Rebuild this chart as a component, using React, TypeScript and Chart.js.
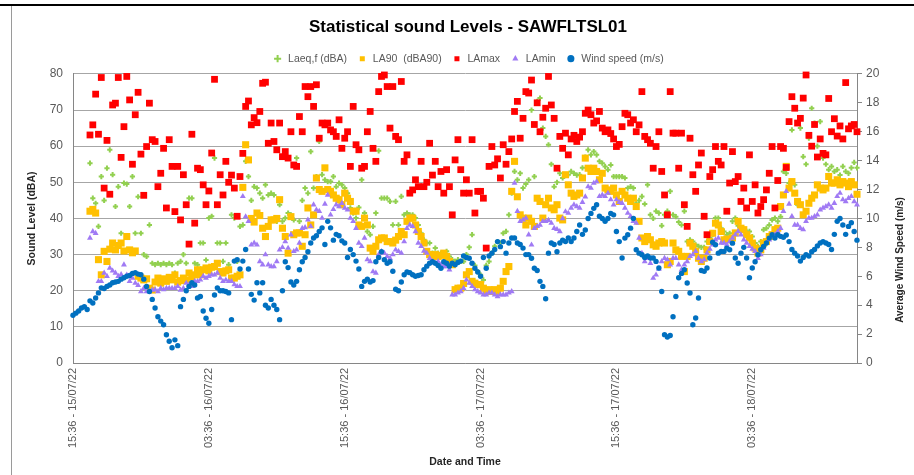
import React, { useEffect, useRef } from "react";
import { Chart, registerables } from "chart.js";

Chart.register(...registerables);

// ---- categories (15-minute intervals from 15:36 15/07/22) ----
const START_UTC = Date.UTC(2022, 6, 15, 15, 36);
const STEP_MINUTES = 15;
const POINT_COUNT = 278;
const TICK_EVERY = 48;

const tickLabels = [
  "15:36 - 15/07/22",
  "03:36 - 16/07/22",
  "15:36 - 16/07/22",
  "03:36 - 17/07/22",
  "15:36 - 17/07/22",
  "03:36 - 18/07/22",
];

const pad2 = (n: number) => String(n).padStart(2, "0");
const categories: string[] = Array.from({ length: POINT_COUNT }, (_, i) => {
  const d = new Date(START_UTC + i * STEP_MINUTES * 60000);
  return `${pad2(d.getUTCHours())}:${pad2(d.getUTCMinutes())} - ${pad2(d.getUTCDate())}/${pad2(
    d.getUTCMonth() + 1
  )}/${String(d.getUTCFullYear()).slice(2)}`;
});

const N = null;

// ---- series values ----
const laeq = [
  N, N, N, N, N, N, 55.3, 45.6, 44.2, 37.8,
  51.6, 45.0, 53.9, 59.0, 52.1, 43.3, 48.8, 35.9, 49.8, 49.5,
  43.3, 51.6, 35.9, 46.0, 35.9, 30.0, 29.5, 38.2, 27.6, 27.2,
  27.6, 27.2, 27.6, 27.2, 27.6, 27.2, 24.9, 27.6, 28.1, 30.0,
  27.6, 45.6, 45.6, 27.6, 27.2, 33.2, 33.2, 28.5, 40.1, 40.6,
  56.7, 33.2, 33.2, 28.1, 33.2, 27.2, 41.0, 40.1, 28.1, 37.8,
  38.2, 55.8, 51.6, 45.0, 48.8, 48.4, 47.0, 45.6, 49.3, 46.5,
  47.0, 46.5, 39.2, 43.8, 39.2, 40.1, 41.5, 41.0, 39.6, 56.7,
  39.2, 45.0, 48.4, 47.0, 58.5, 48.4, 51.6, 61.3, 52.1, 50.7,
  50.2, 50.2, 51.6, 48.8, 49.8, 49.3, 48.4, 47.0, 42.9, 41.5,
  40.1, 43.0, 50.7, 41.5, 36.4, 35.5, 37.8, 41.5, 58.7, 45.6,
  45.6, 45.6, 44.7, 38.2, 44.7, 38.2, 46.1, 41.0, 41.5, 41.0,
  41.0, 40.1, 38.2, 35.9, 34.1, 33.2, 33.2, 30.4, 31.8, 30.4,
  30.4, 30.4, 30.9, 29.5, 28.6, 28.1, 28.6, 28.1, 28.1, 30.0,
  32.0, 35.5, 27.0, 25.3, 24.4, 23.0, 27.0, 28.1, 30.4, 32.3,
  33.6, 33.2, 35.9, 36.4, 41.0, 47.0, 53.0, 50.7, 52.5, 48.4,
  49.5, 50.7, 70.0, 51.6, 72.4, 73.3, 65.0, 62.7, 60.4, 55.0,
  48.8, 50.0, 52.5, 51.2, 52.0, 52.1, 53.0, 52.5, 52.0, 52.1,
  54.0, 57.0, 59.0, 57.6, 58.5, 57.6, 55.8, 55.3, 54.4, 53.5,
  54.8, 51.6, 51.6, 51.6, 51.6, 51.2, 48.4, 48.8, 48.4, 44.2,
  45.0, 46.1, 44.0, 49.3, 41.0, 40.0, 42.0, 41.5, 38.0, 41.0,
  42.0, 47.5, 41.0, 40.5, 39.0, 38.2, 42.0, 33.6, 34.1, 33.6,
  32.7, 32.3, 32.0, 32.0, 33.6, 34.6, 35.5, 40.1, 40.1, 37.3,
  36.4, 35.5, 35.9, 39.2, 40.1, 38.0, 37.3, 36.9, 36.4, 36.4,
  35.0, 33.2, 32.3, 33.6, 36.9, 37.3, 38.2, 39.6, 40.1, 39.2,
  40.5, 53.0, 52.5, 49.8, 64.5, 49.3, 43.8, 65.0, 57.1, 55.0,
  62.2, 70.5, 66.4, 60.0, 66.8, 56.7, 55.0, 53.5, 54.4, 53.0,
  53.5, 52.0, 54.4, 53.0, 52.5, 54.0, 55.5, 54.0,
];

const la90 = [
  N, N, N, N, N, N, 42.0, 42.5, 41.5, 28.6,
  24.4, 30.9, 28.1, 31.5, 33.2, 31.3, 32.5, 33.2, 31.0, 35.0,
  31.3, 30.5, 31.0, 24.0, 23.5, 23.0, 23.3, 20.7, 20.2, 22.4,
  23.5, 22.1, 23.3, 22.6, 23.7, 23.0, 24.4, 22.4, 22.8, 23.5,
  22.9, 24.9, 23.8, 24.4, 25.8, 24.4, 25.8, 26.3, 25.5, 26.5,
  26.7, 27.6, 25.3, 24.9, 25.5, 25.8, 23.5, 23.5, 24.0, 24.4,
  48.6, 60.4, 56.2, 40.0, 39.0, 41.5, 40.8, 37.3, 35.0, 37.8,
  39.6, 39.6, 40.0, 45.2, 37.3, 35.0, 30.4, 40.5, 35.5, 36.0,
  36.0, 32.3, 35.5, 42.9, 38.2, 41.0, 51.2, 48.0, 47.5, 54.0,
  48.0, 47.5, 46.5, 45.6, 45.2, 43.8, 47.0, 45.6, 44.7, 42.0,
  42.0, 38.2, 37.8, 40.1, 38.2, 31.8, 30.9, 32.3, 34.1, 34.6,
  34.6, 33.6, 33.6, 33.2, 34.0, 35.0, 36.4, 35.5, 39.2, 40.1,
  40.1, 38.2, 36.4, 35.0, 33.2, 30.9, 30.0, 29.5, 30.0, 29.5,
  29.8, 30.4, 29.5, 28.1, 27.2, 20.3, 20.7, 20.7, 22.0, 24.4,
  25.3, 22.6, 22.1, 21.7, 21.7, 20.7, 19.8, 20.3, 19.8, 20.3,
  19.8, 20.7, 22.6, 25.3, 26.7, 47.5, 55.8, 46.0, 41.0, 40.1,
  38.2, 40.1, 39.2, 37.8, 45.6, 44.7, 40.1, 43.8, 45.6, 42.9,
  42.4, 43.8, 40.1, 39.6, 52.1, 49.3, 47.0, 46.1, 46.5, 47.0,
  51.2, 56.7, 53.9, 53.0, 53.9, 53.0, 50.7, 52.5, 48.4, 47.9,
  47.5, 48.4, 46.5, 44.7, 47.5, 46.5, 45.6, 44.7, 45.6, 43.3,
  39.2, 34.6, 33.6, 35.0, 34.1, 32.7, 32.3, 33.2, 33.6, 33.2,
  27.2, 28.1, 33.2, 31.3, 30.9, 29.5, 25.3, 29.5, 33.2, 32.3,
  30.9, 29.0, 28.1, 29.0, 31.3, 33.6, 35.9, 38.7, 38.2, 36.4,
  34.1, 34.3, 34.1, 34.6, 36.0, 39.2, 37.3, 36.9, 35.5, 34.6,
  33.2, 31.8, 30.4, 31.3, 33.2, 33.6, 35.0, 35.5, 36.9, 37.3,
  43.3, 46.5, 54.4, 48.4, 50.2, 47.0, 44.7, 43.8, 41.0, 42.0,
  44.2, 45.6, 46.5, 49.3, 48.4, 47.9, 48.4, 51.6, 49.8, 49.8,
  50.7, 49.3, 50.2, 49.8, 48.8, 50.2, 49.3, 46.7,
];

const lamax = [
  N, N, N, N, N, N, 63.1, 65.9, 74.4, 63.3,
  79.0, 48.4, 61.6, 46.7, 71.4, 71.9, 79.0, 56.9, 65.4, 79.3,
  72.8, 55.0, 68.7, 74.9, 57.8, 46.4, 59.9, 71.9, 61.8, 61.3,
  48.8, 52.5, 59.4, 42.9, 61.8, 54.4, 41.9, 54.4, 39.6, 52.1,
  43.8, 32.9, 63.3, 38.7, 53.9, 53.5, 49.3, 43.8, 47.6, 58.1,
  78.5, 43.8, 52.1, 46.5, 55.8, 50.0, 52.0, 48.4, 40.6, 51.6,
  58.0, 71.0, 72.5, 65.9, 67.9, 66.5, 69.6, 77.4, 77.7, 60.8,
  66.4, 61.3, 59.0, 66.4, 57.1, 58.5, 56.7, 64.0, 54.8, 54.4,
  68.2, 64.0, 76.5, 73.7, 76.5, 71.0, 77.0, 62.2, 66.4, 65.9,
  66.4, 64.5, 64.0, 62.7, 67.3, 59.4, 62.2, 64.0, 54.4, 71.0,
  60.4, 59.0, 53.9, 54.4, 64.0, 69.6, 59.4, 55.8, 75.1, 79.3,
  79.7, 76.5, 65.0, 76.5, 62.7, 61.8, 77.9, 55.8, 57.6, 47.0,
  47.9, 50.7, 48.8, 55.8, 48.8, 50.0, 60.8, 52.0, 55.8, 48.8,
  53.0, 47.0, 53.5, 48.8, 41.0, 56.2, 61.8, 53.5, 47.0, 50.7,
  47.0, 61.8, 41.5, 47.5, 47.5, 45.6, 31.8, 54.4, 59.9, 54.8,
  56.5, 51.2, 60.4, 55.0, 58.5, 62.0, 69.6, 72.4, 62.2, 67.7,
  75.1, 74.7, 78.3, 66.0, 72.0, 64.0, 68.0, 70.5, 79.3, 71.4,
  67.7, 53.9, 62.7, 59.4, 63.6, 57.6, 62.0, 63.0, 61.3, 62.5,
  64.0, 69.1, 70.0, 68.7, 66.4, 67.0, 69.6, 65.0, 64.0, 64.5,
  63.5, 62.0, 59.9, 60.5, 65.4, 69.1, 68.7, 66.4, 67.3, 64.0,
  65.9, 75.1, 62.7, 61.8, 60.8, 53.9, 59.9, 64.0, 53.0, 46.5,
  41.0, 75.1, 63.6, 63.6, 53.9, 63.6, 43.8, 37.8, 62.2, 52.1,
  47.5, 54.8, 58.1, 40.6, 35.5, 51.6, 53.5, 59.9, 55.8, 54.8,
  59.9, 42.0, 49.8, 58.5, 50.2, 51.6, 44.7, 48.4, 42.9, 57.6,
  44.7, 49.3, 41.5, 43.3, 45.2, 47.9, 52.5, 59.9, 42.9, 50.5,
  59.9, 59.4, 54.1, 66.8, 73.7, 70.5, 66.4, 67.7, 73.3, 79.7,
  63.0, 60.0, 66.0, 57.0, 62.0, 58.0, 57.6, 73.2, 64.0, 67.6,
  62.8, 65.6, 62.0, 77.6, 64.8, 65.6, 66.0, 64.0,
];

const lamin = [
  N, N, N, N, N, N, 34.6, 36.4, 35.9, 22.6,
  22.6, 24.9, 24.0, 26.3, 25.5, 24.9, 24.0, 24.5, 27.2, 24.4,
  22.6, 23.5, 22.1, 21.5, 19.8, 20.7, 19.8, 19.8, 20.2, 20.3,
  19.8, 20.7, 20.3, 20.7, 20.7, 20.7, 20.7, 21.2, 20.2, 20.7,
  22.1, 21.7, 21.2, 22.6, 22.6, 23.0, 24.0, 23.5, 24.0, 24.4,
  24.4, 24.9, 23.5, 22.6, 23.0, 22.6, 22.6, 21.7, 21.2, 21.2,
  46.1, 40.5, 39.2, 32.7, 33.2, 32.7, 28.1, 27.2, 30.0, 27.2,
  26.7, 26.7, 28.1, 31.3, 32.0, 33.6, 31.8, 35.5, 30.9, 31.3,
  33.2, 37.3, 37.5, 39.6, 37.8, 43.8, 42.4, 42.0, 40.1, 44.0,
  46.5, 41.0, 42.5, 43.8, 43.3, 44.2, 42.9, 42.4, 40.1, 39.2,
  37.3, 33.2, 32.3, 34.6, 28.6, 28.1, 25.3, 24.9, 30.0, 30.9,
  30.4, 29.5, 29.0, 30.0, 31.3, 30.9, 30.4, 33.6, 37.3, 38.2,
  37.8, 36.4, 33.2, 32.3, 31.0, 30.4, 29.0, 28.1, 27.6, 28.1,
  27.2, 26.7, 26.7, 25.8, 18.9, 18.9, 19.4, 19.8, 20.7, 23.0,
  22.1, 21.2, 20.3, 19.8, 19.4, 18.9, 18.9, 19.4, 19.4, 18.9,
  18.4, 18.9, 18.9, 18.9, 19.4, 19.8, 49.8, 42.0, 39.2, 39.6,
  40.1, 35.5, 32.7, 37.3, 37.8, 38.2, 39.2, 39.2, 39.5, 38.7,
  37.3, 37.0, 36.4, 40.0, 41.9, 41.5, 42.9, 43.8, 43.3, 42.9,
  44.5, 46.0, 48.8, 48.4, 49.8, 50.2, 46.1, 46.5, 46.1, 47.0,
  45.2, 43.8, 45.2, 44.5, 44.2, 42.9, 41.5, 40.6, 39.2, 38.7,
  34.6, 30.4, 28.1, 29.0, 27.6, 23.5, 24.4, 26.0, 28.1, 29.0,
  28.6, 27.2, 29.0, 29.0, 27.2, 25.8, 27.2, 28.1, 29.5, 30.0,
  30.9, 29.0, 28.1, 28.6, 30.4, 31.5, 32.7, 34.1, 34.6, 33.2,
  33.2, 32.7, 33.6, 34.6, 35.5, 36.4, 35.5, 34.1, 33.2, 32.3,
  31.5, 30.9, 29.0, 30.0, 31.8, 33.2, 34.1, 35.0, 35.5, 36.4,
  37.3, 42.0, 47.5, 44.0, 40.6, 38.2, 38.2, 37.3, 36.9, 39.2,
  40.1, 40.1, 40.6, 41.0, 42.4, 42.9, 43.3, 43.8, 42.9, 44.2,
  46.1, 47.0, 45.2, 44.7, 45.6, 46.1, 44.7, 43.8,
];

const windSpeed = [
  3.3, 3.45, 3.6, 3.8, 3.9, 3.7, 4.3, 4.15, 4.5, 4.85,
  5.2, 5.15, 5.3, 5.4, 5.55, 5.6, 5.65, 5.8, 5.9, 6.0,
  6.05, 6.2, 6.25, 6.15, 6.1, 5.8, 5.3, 4.95, 4.4, 3.8,
  3.2, 2.9, 2.65, 1.95, 1.5, 1.05, 1.6, 1.2, 3.9, 4.4,
  5.0, 5.3, 5.55, 5.4, 4.5, 4.6, 3.6, 3.1, 2.75, 3.7,
  4.7, 5.2, 5.0, 5.0, 4.95, 4.85, 3.0, 7.05, 7.15, 6.5,
  7.05, 7.85, 6.5, 4.75, 4.35, 5.55, 4.85, 5.55, 4.0, 3.8,
  4.4, 4.0, 3.7, 3.0, 5.0, 7.0, 6.6, 5.6, 5.4, 5.65,
  6.45, 7.0, 7.3, 7.7, 8.3, 8.65, 8.8, 9.1, 9.35, 8.2,
  9.8, 9.35, 8.5, 8.9, 8.8, 8.45, 8.3, 7.3, 7.85, 7.5,
  7.05, 6.5, 5.3, 5.65, 5.8, 5.6, 5.7, 7.0, 7.3, 7.7,
  7.15, 6.9, 7.0, 6.35, 5.1, 5.0, 5.6, 6.1, 6.3, 6.25,
  6.1, 6.0, 6.05, 6.1, 6.45, 6.7, 6.9, 7.0, 6.9, 6.75,
  6.55, 7.0, 6.9, 6.7, 6.9, 6.8, 6.95, 7.05, 7.4, 7.3,
  7.25, 6.9, 6.55, 6.3, 6.0, 7.3, 6.55, 7.4, 7.6, 7.85,
  8.4, 8.05, 8.4, 7.6, 8.3, 8.65, 8.65, 8.3, 8.2, 7.95,
  7.5, 7.5, 7.25, 6.55, 6.4, 5.65, 5.3, 4.45, 7.6, 8.3,
  8.2, 7.7, 8.3, 8.5, 8.4, 8.65, 8.4, 8.65, 9.1, 9.55,
  8.9, 9.2, 10.0, 10.35, 10.7, 10.95, 10.15, 10.0, 9.8, 10.0,
  10.35, 10.25, 9.1, 8.4, 7.26, 8.64, 8.87, 9.33, 10.0, 7.83,
  7.6, 7.49, 7.3, 7.4, 7.26, 7.26, 7.03, 6.57, 4.95, 1.96,
  1.8, 1.9, 3.2, 4.6, 5.9, 6.2, 6.45, 5.53, 4.84, 2.65,
  3.11, 4.5, 6.4, 6.34, 6.57, 7.26, 8.35, 8.18, 7.6, 7.72,
  7.72, 7.95, 7.83, 8.29, 7.26, 6.9, 7.6, 8.0, 7.26, 5.9,
  6.57, 7.0, 7.49, 7.83, 8.06, 8.3, 8.64, 8.87, 8.64, 8.87,
  8.76, 8.7, 8.85, 8.4, 7.85, 7.6, 7.4, 7.05, 7.3, 7.5,
  7.4, 7.7, 7.85, 8.1, 8.3, 8.4, 8.3, 8.2, 7.85, 8.9,
  9.8, 10.0, 9.55, 8.9, 9.45, 9.7, 9.1, 8.5,
];

const FONT = '"Liberation Sans", Arial, sans-serif';
const TEXT_GREY = "#595959";
const AXIS_GREY = "#868686";

const framePlugin = {
  id: "frameAndRightTitle",
  beforeDraw(chart: any) {
    const ctx = chart.ctx;
    ctx.save();
    ctx.fillStyle = "#ffffff";
    ctx.fillRect(0, 0, chart.width, chart.height);
    ctx.restore();
  },
  afterDraw(chart: any) {
    const ctx = chart.ctx;
    ctx.save();
    // sheet frame
    ctx.fillStyle = "#000000";
    ctx.fillRect(0, 4, chart.width, 2);
    ctx.fillStyle = "#9a9a9a";
    ctx.fillRect(11, 6, 1, chart.height - 6);
    // right axis title (reads bottom to top)
    ctx.translate(900, 260);
    ctx.rotate(-Math.PI / 2);
    ctx.textAlign = "center";
    ctx.textBaseline = "middle";
    ctx.font = `bold 10px ${FONT}`;
    ctx.fillStyle = "#262626";
    ctx.fillText("Average Wind Speed (m/s)", 0, 0);
    ctx.restore();
  },
};

export default function App() {
  const canvasRef = useRef<HTMLCanvasElement | null>(null);

  useEffect(() => {
    if (!canvasRef.current) return;
    const mk = (
      label: string,
      data: (number | null)[],
      color: string,
      style: string,
      radius: number,
      order: number,
      axis: string,
      bw = 0
    ) => ({
      label,
      data,
      showLine: false,
      pointStyle: style,
      pointRadius: radius,
      pointHoverRadius: radius,
      pointBorderWidth: bw,
      borderWidth: bw || 1,
      borderColor: color,
      backgroundColor: color,
      pointBackgroundColor: color,
      pointBorderColor: color,
      order,
      yAxisID: axis,
      clip: false as const,
    });

    const chart = new Chart(canvasRef.current, {
      type: "line",
      data: {
        labels: categories,
        datasets: [
          mk("Laeq,f (dBA)", laeq, "#92D050", "cross", 2.6, 5, "y", 2),
          mk("LA90  (dBA90)", la90, "#FFC000", "rect", 5, 4, "y"),
          mk("LAmax", lamax, "#FF0000", "rect", 4.8, 3, "y"),
          mk("LAmin", lamin, "#A07AF4", "triangle", 3.4, 2, "y"),
          mk("Wind speed (m/s)", windSpeed, "#0070C0", "circle", 2.7, 1, "y1"),
        ] as any,
      },
      options: {
        responsive: false,
        animation: false,
        devicePixelRatio: 1,
        events: [],
        layout: { padding: { left: 22, right: 0, top: 0, bottom: 0 } },
        plugins: {
          title: {
            display: true,
            text: "Statistical sound Levels - SAWFLTSL01",
            color: "#000000",
            font: { family: FONT, size: 17, weight: "bold" },
            padding: { top: 17, bottom: 6 },
          },
          legend: {
            display: true,
            position: "top",
            labels: {
              usePointStyle: true,
              boxHeight: 5,
              padding: 10,
              color: TEXT_GREY,
              font: { family: FONT, size: 10.5 },
              sort: (a: any, b: any) => a.datasetIndex - b.datasetIndex,
            },
          },
          tooltip: { enabled: false },
        },
        scales: {
          x: {
            type: "category",
            offset: false,
            grid: { display: false, drawTicks: false },
            border: { display: true, color: AXIS_GREY },
            afterBuildTicks: (scale: any) => {
              scale.ticks = scale.ticks.filter((t: any) => t.value % TICK_EVERY === 0);
            },
            afterFit: (scale: any) => {
              scale.height = 112;
            },
            ticks: {
              autoSkip: false,
              minRotation: 90,
              maxRotation: 90,
              padding: 5,
              color: TEXT_GREY,
              font: { family: FONT, size: 11 },
              callback: (value: any) => tickLabels[Math.round(Number(value) / TICK_EVERY)] ?? "",
            },
            title: {
              display: true,
              text: "Date and Time",
              color: "#262626",
              font: { family: FONT, size: 10.5, weight: "bold" },
              padding: { top: 0, bottom: 7 },
            },
          },
          y: {
            position: "left",
            min: 0,
            max: 80,
            grid: { color: "#A6A6A6", drawTicks: false, lineWidth: 1 },
            border: { display: true, color: AXIS_GREY },
            afterFit: (scale: any) => {
              scale.width = 51;
            },
            ticks: {
              stepSize: 10,
              padding: 10,
              color: TEXT_GREY,
              font: { family: FONT, size: 12 },
            },
            title: {
              display: true,
              text: "Sound Level (dBA)",
              color: "#262626",
              font: { family: FONT, size: 10.5, weight: "bold" },
              padding: { top: 4, bottom: 0 },
            },
          },
          y1: {
            position: "right",
            min: 0,
            max: 20,
            grid: { drawOnChartArea: false, drawTicks: true, tickLength: 5, color: AXIS_GREY },
            border: { display: true, color: AXIS_GREY },
            afterFit: (scale: any) => {
              scale.width = 57;
            },
            ticks: {
              stepSize: 2,
              padding: 4,
              color: TEXT_GREY,
              font: { family: FONT, size: 12 },
            },
          },
        },
      } as any,
      plugins: [framePlugin],
    });

    return () => chart.destroy();
  }, []);

  return (
    <div style={{ position: "absolute", left: 0, top: 0, width: 914, height: 475, background: "#fff" }}>
      <canvas ref={canvasRef} width={914} height={475} style={{ display: "block" }} />
    </div>
  );
}
